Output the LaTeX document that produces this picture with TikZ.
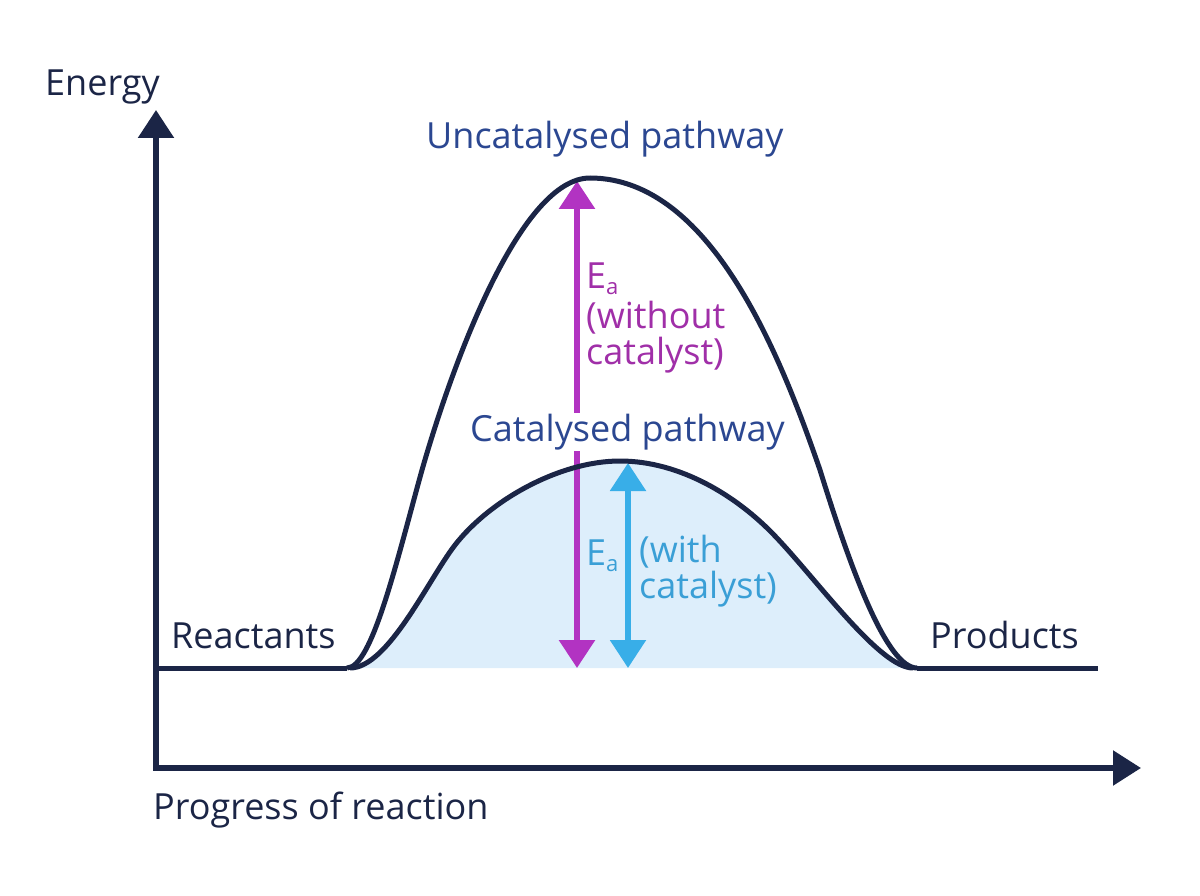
\documentclass[tikz,border=0pt]{standalone}
\usepackage{fontspec}
\setmainfont{Open Sans}
\usetikzlibrary{arrows.meta}
\definecolor{navy}{HTML}{1B2546}
\definecolor{pathblue}{HTML}{2B4791}
\definecolor{magarrow}{HTML}{B233C2}
\definecolor{magtext}{HTML}{A02FA8}
\definecolor{cyanarrow}{HTML}{38AEE8}
\definecolor{cyantext}{HTML}{3A9FD6}
\definecolor{fillblue}{HTML}{DDEEFB}
\newcommand{\subA}{\raisebox{-6pt}{\fontsize{22}{22}\selectfont a}}
\begin{document}
\begin{tikzpicture}[x=1pt,y=-1pt,
  axisline/.style={draw=navy,line width=5.5pt},
  curveline/.style={draw=navy,line width=5pt,line join=round},
  lbl/.style={anchor=base west,inner sep=0pt,font=\fontsize{36}{42}\selectfont}
]
\useasboundingbox (0,0) rectangle (1200,896);
% coordinates
\coordinate (ytip) at (156,110);
\coordinate (O) at (156,768);
\coordinate (xtip) at (1141,768);
\coordinate (base0) at (156,668);
\coordinate (A) at (347,668);
\coordinate (A2) at (350,668);
\coordinate (B) at (917,668);
\coordinate (B2) at (913,668);
\coordinate (base1) at (1098,668);
\coordinate (M) at (422,470);
\coordinate (P) at (590,178);
\coordinate (N) at (820,470);
\coordinate (L) at (455,545);
\coordinate (Q) at (620,461);
\coordinate (R) at (775,536);
\coordinate (magbot) at (577,668);
\coordinate (magtop) at (577,181);
\coordinate (cyanbot) at (628,668);
\coordinate (cyantop) at (628,463);

% fill under catalysed
\fill[fillblue] (A2) .. controls (388,668) and (428,580) .. (L)
  .. controls (490,500) and (560,461) .. (Q)
  .. controls (680,461) and (737,496) .. (R)
  .. controls (818,581) and (880,668) .. (B2) -- cycle;

% axes
\draw[axisline,{Triangle[length=28pt,width=35pt]}-{Triangle[length=28pt,width=34pt]}] (ytip) -- (O) -- (xtip);

% arrows
\draw[draw=magarrow,line width=6pt,{Triangle[length=28pt,width=35pt]}-{Triangle[length=28pt,width=35pt]}] (magbot) -- (magtop);
\draw[draw=cyanarrow,line width=5.5pt,{Triangle[length=28pt,width=35pt]}-{Triangle[length=28pt,width=35pt]}] (cyanbot) -- (cyantop);

% baselines
\draw[curveline,line cap=butt] (base0) -- (A);
\draw[curveline,line cap=butt] (B) -- (base1);

% uncatalysed curve
\draw[curveline] (A) .. controls (372,668) and (397,560) .. (M)
  .. controls (455,355) and (522,178) .. (P)
  .. controls (712,178) and (782,360) .. (N)
  .. controls (851,570) and (887,668) .. (B);

% catalysed curve
\draw[curveline] (A2) .. controls (388,668) and (428,580) .. (L)
  .. controls (490,500) and (560,461) .. (Q)
  .. controls (680,461) and (737,496) .. (R)
  .. controls (818,581) and (880,668) .. (B2);

% labels
\node[lbl,text=navy] (energy) at (45,96) {Energy};
\node[lbl,text=navy] (progress) at (153,819) {Progress of reaction};
\node[lbl,text=navy] (reactants) at (171,648) {Reactants};
\node[lbl,text=navy] (products) at (930,648) {Products};
\node[lbl,text=pathblue] (uncat) at (426,149) {Uncatalysed pathway};
\node[lbl,text=pathblue,fill=white,inner ysep=1pt,inner xsep=0pt] (cat) at (470,441) {Catalysed pathway};

\node[lbl,text=magtext] (eamag) at (586,288) {E\subA};
\node[lbl,text=magtext] (womag1) at (586,328) {(without};
\node[lbl,text=magtext] (womag2) at (586,364) {catalyst)};

\node[lbl,text=cyantext] (eacyan) at (586,565) {E\subA};
\node[lbl,text=cyantext] (wcyan1) at (639,562) {(with};
\node[lbl,text=cyantext] (wcyan2) at (639,598) {catalyst)};
\end{tikzpicture}
\end{document}
